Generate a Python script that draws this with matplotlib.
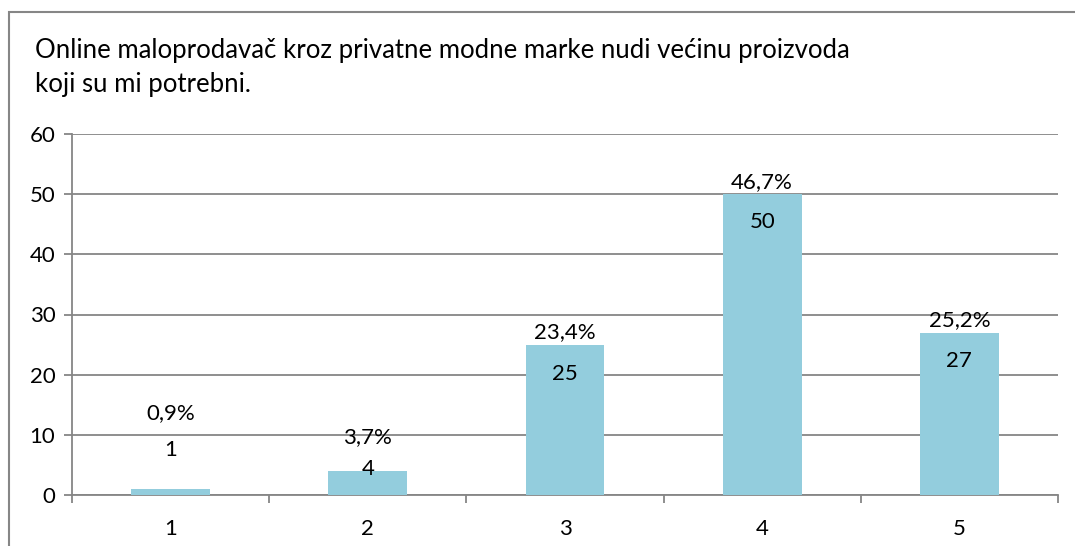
import matplotlib.pyplot as plt
from matplotlib.patches import Rectangle
import numpy as np

categories = ['1', '2', '3', '4', '5']
counts = [1, 4, 25, 50, 27]
percents = ['0,9%', '3,7%', '23,4%', '46,7%', '25,2%']
title = 'Online maloprodavač kroz privatne modne marke nudi većinu proizvoda\nkoji su mi potrebni.'

plt.rcParams['font.family'] = ['Lato', 'DejaVu Sans']

grey = '#868686'
bar_color = '#93CDDD'

fig = plt.figure(figsize=(10.75, 5.46), dpi=100)
ax = fig.add_axes([72 / 1075, 51 / 546, 986 / 1075, 361 / 546])

x = np.arange(1, len(categories) + 1)
bars = ax.bar(x, counts, width=0.4, color=bar_color, zorder=3)

ax.set_xlim(0.5, 5.5)
ax.set_ylim(0, 60)
ax.set_yticks(range(0, 61, 10))
ax.set_xticks(x)
ax.set_xticklabels(categories)
ax.set_xticks(np.arange(0.5, 6, 1), minor=True)
ax.tick_params(axis='x', which='major', length=0, pad=17, labelsize=16)
ax.tick_params(axis='x', which='minor', length=6, color=grey, width=1.3)
ax.tick_params(axis='y', length=6, color=grey, width=1.3, labelsize=16, pad=6)
ax.grid(True, axis='y', color=grey, linewidth=1.3, zorder=0)

for side in ['top', 'right']:
    ax.spines[side].set_visible(False)
for side in ['left', 'bottom']:
    ax.spines[side].set_color(grey)
    ax.spines[side].set_linewidth(1.3)

# label offsets in pixels relative to bar top (Excel-like placement)
count_offsets = [39, 2, -29, -28, -28]
pct_offsets = [76, 34, 12, 12, 12]
for bar, c, p, co, po in zip(bars, counts, percents, count_offsets, pct_offsets):
    cx = bar.get_x() + bar.get_width() / 2
    ax.annotate(str(c), (cx, c), xytext=(0, co), textcoords='offset pixels',
                ha='center', va='center', fontsize=16, zorder=4)
    ax.annotate(p, (cx, c), xytext=(0, po), textcoords='offset pixels',
                ha='center', va='center', fontsize=16, zorder=4)

fig.text(35 / 1075, 1 - 38 / 546, title, ha='left', va='top', fontsize=18.5,
         linespacing=1.45)

fig.patches.append(Rectangle((9 / 1075, -0.1), 1.2, 1.1 - 12 / 546,
                             transform=fig.transFigure, fill=False,
                             edgecolor=grey, linewidth=1.5))

fig.savefig('out.png', dpi=100)
